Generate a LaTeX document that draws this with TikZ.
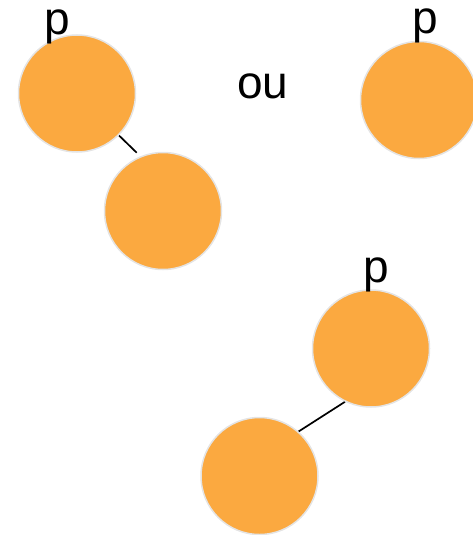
\documentclass[tikz,border=0pt]{standalone}
\usepackage{fontspec}
\setmainfont{Liberation Sans}
\usetikzlibrary{backgrounds}
\definecolor{nodefill}{RGB}{251,169,64}
\definecolor{nodeline}{RGB}{228,228,228}
\begin{document}
\begin{tikzpicture}[x=1pt,y=-1pt,
  vert/.style={circle,fill=nodefill,draw=nodeline,line width=1.5pt,minimum size=117pt,inner sep=0pt},
  lbl/.style={anchor=base,font=\fontsize{46}{55}\selectfont,text=black,inner sep=0pt},
  edge/.style={draw=black,line width=1.7pt}]
\useasboundingbox (0,0) rectangle (473,535);
\node[vert] (a) at (77,93.5) {};
\node[vert] (b) at (163,211) {};
\node[vert] (c) at (419,100) {};
\node[vert] (d) at (371,348.5) {};
\node[vert] (e) at (259.5,476) {};
\coordinate (b1) at (136.7,152.7);
\coordinate (e1) at (296.7,432.7);
\begin{pgfonlayer}{background}
\path[edge] (a.-45.5) -- (b1);
\path[edge] (d.-116.6) -- (e1);
\end{pgfonlayer}
\node[lbl] (pa) at (57,35) {p};
\node[lbl] (pc) at (425,34) {p};
\node[lbl] (pd) at (376,282) {p};
\node[lbl] (ou) at (263,98) {ou};
\end{tikzpicture}
\end{document}
